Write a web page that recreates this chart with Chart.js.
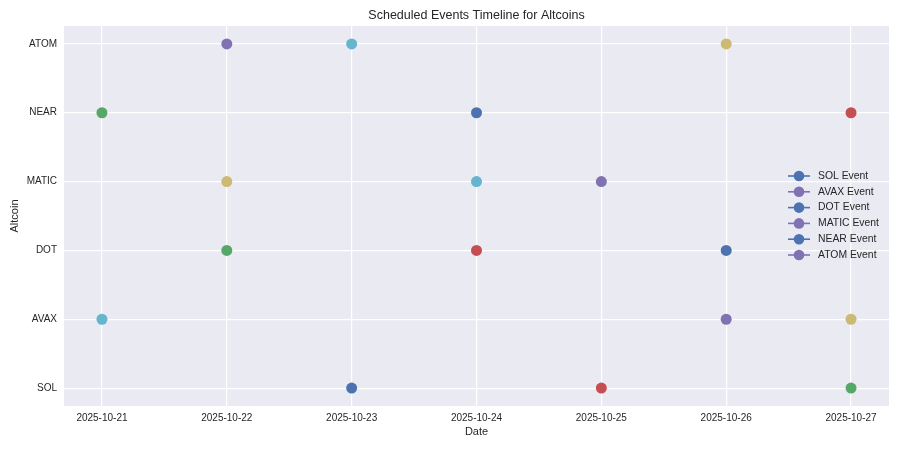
<!DOCTYPE html>
<html>
<head>
<meta charset="utf-8">
<script src="https://cdn.jsdelivr.net/npm/chart.js@4"></script>
<style>
  html, body { margin: 0; padding: 0; background: #ffffff; }
  #wrap { width: 900px; height: 450px; }
</style>
</head>
<body>
<div id="wrap"><canvas id="timeline"></canvas></div>
<script>
// Dates on the x axis and coins on the y axis
const dates = ['2025-10-21', '2025-10-22', '2025-10-23', '2025-10-24', '2025-10-25', '2025-10-26', '2025-10-27'];
const coins = ['SOL', 'AVAX', 'DOT', 'MATIC', 'NEAR', 'ATOM'];

// Event days (index into dates) per coin, and the event type of each one
const solDays = [2, 4, 6];
const solTypes = [0, 2, 1];
const avaxDays = [0, 5, 6];
const avaxTypes = [5, 3, 4];
const dotDays = [1, 3, 5];
const dotTypes = [1, 2, 0];
const maticDays = [1, 3, 4];
const maticTypes = [4, 5, 3];
const nearDays = [0, 3, 6];
const nearTypes = [1, 0, 2];
const atomDays = [1, 2, 5];
const atomTypes = [3, 5, 4];

const eventDays = [solDays, avaxDays, dotDays, maticDays, nearDays, atomDays];
const eventTypes = [solTypes, avaxTypes, dotTypes, maticTypes, nearTypes, atomTypes];

// seaborn "deep" palette
const palette = ['#4C72B0', '#55A868', '#C44E52', '#8172B2', '#CCB974', '#64B5CD'];
const legendColors = ['#4C72B0', '#8172B2'];
const textColor = '#262626';
const fontFamily = '"Liberation Sans", Arial, sans-serif';

const datasets = coins.map((coin, ci) => ({
    label: coin + ' Event',
    data: eventDays[ci].map(d => ({ x: d, y: ci })),
    showLine: false,
    pointRadius: 5.5,
    pointHoverRadius: 6.5,
    pointBorderWidth: 0,
    pointBackgroundColor: eventTypes[ci].map(t => palette[t]),
    borderColor: legendColors[ci % 2]
}));

const decorPlugin = {
    id: 'decor',
    beforeDraw(chart) {
        const { ctx, chartArea: a } = chart;
        ctx.save();
        ctx.fillStyle = '#EAEAF2';
        ctx.fillRect(a.left, a.top, a.right - a.left, a.bottom - a.top);
        ctx.restore();
    },
    afterDraw(chart) {
        const { ctx, chartArea: a } = chart;
        ctx.save();
        ctx.fillStyle = textColor;
        ctx.textAlign = 'center';
        ctx.textBaseline = 'middle';
        ctx.font = '12.5px ' + fontFamily;
        ctx.fillText('Scheduled Events Timeline for Altcoins', (a.left + a.right) / 2, 16);
        ctx.font = '11px ' + fontFamily;
        ctx.fillText('Date', (a.left + a.right) / 2, 432);
        ctx.translate(15, (a.top + a.bottom) / 2);
        ctx.rotate(-Math.PI / 2);
        ctx.fillText('Altcoin', 0, 0);
        ctx.restore();

        // legend inside the plot, right side
        ctx.save();
        ctx.font = '10.4px ' + fontFamily;
        ctx.textAlign = 'left';
        ctx.textBaseline = 'middle';
        chart.data.datasets.forEach((ds, i) => {
            const y = 176 + i * 15.8;
            const c = legendColors[i % 2];
            ctx.strokeStyle = c;
            ctx.lineWidth = 1.6;
            ctx.beginPath();
            ctx.moveTo(788, y);
            ctx.lineTo(810, y);
            ctx.stroke();
            ctx.fillStyle = c;
            ctx.beginPath();
            ctx.arc(799, y, 5.3, 0, Math.PI * 2);
            ctx.fill();
            ctx.fillStyle = textColor;
            ctx.fillText(ds.label, 818, y);
        });
        ctx.restore();
    }
};

new Chart(document.getElementById('timeline').getContext('2d'), {
    type: 'scatter',
    data: { datasets },
    plugins: [decorPlugin],
    options: {
        responsive: true,
        maintainAspectRatio: false,
        animation: false,
        layout: { padding: { top: 26, right: 11, left: 0, bottom: 0 } },
        plugins: {
            legend: { display: false },
            title: { display: false },
            tooltip: {
                callbacks: {
                    label: (c) => `${coins[c.raw.y]}: ${dates[c.raw.x]}`
                }
            }
        },
        scales: {
            x: {
                type: 'linear',
                min: -0.304,
                max: 6.304,
                border: { display: false },
                grid: { color: '#ffffff', lineWidth: 1.2, drawTicks: false },
                afterBuildTicks: (s) => { s.ticks = dates.map((_, i) => ({ value: i })); },
                afterFit: (s) => { s.height = 44; },
                ticks: {
                    padding: 6,
                    maxRotation: 0,
                    autoSkip: false,
                    color: textColor,
                    font: { family: fontFamily, size: 10 },
                    callback: (v) => dates[v]
                }
            },
            y: {
                type: 'linear',
                min: -0.26,
                max: 5.26,
                border: { display: false },
                grid: { color: '#ffffff', lineWidth: 1.2, drawTicks: false },
                afterBuildTicks: (s) => { s.ticks = coins.map((_, i) => ({ value: i })); },
                afterFit: (s) => { s.width = 64; },
                ticks: {
                    padding: 7,
                    autoSkip: false,
                    color: textColor,
                    font: { family: fontFamily, size: 10 },
                    callback: (v) => coins[v]
                }
            }
        }
    }
});
</script>
</body>
</html>
